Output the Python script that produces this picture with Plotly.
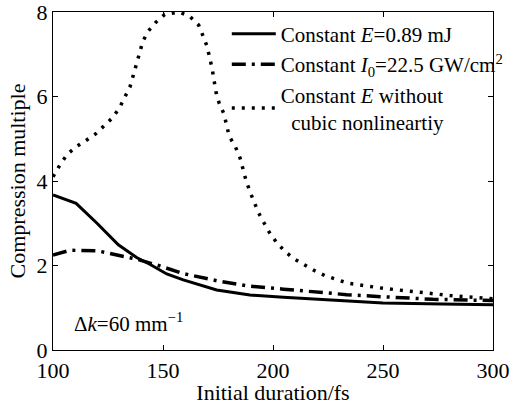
import plotly.graph_objects as go

# --- data ---
dur_e = [100, 110.5, 120, 129.7, 138, 144, 151.7, 159.2, 174.4, 189.5, 204.7, 219.9, 233.5, 250, 277, 300]
mult_e = [3.67, 3.47, 3.0, 2.49, 2.19, 2.03, 1.80, 1.66, 1.42, 1.30, 1.25, 1.20, 1.15, 1.11, 1.09, 1.07]

dur_i = [100, 107.7, 119.9, 129, 138, 148, 159.2, 174.4, 189.5, 204.7, 220, 233.5, 250, 272.7, 300]
mult_i = [2.25, 2.36, 2.35, 2.25, 2.15, 2.00, 1.81, 1.64, 1.51, 1.44, 1.36, 1.31, 1.26, 1.20, 1.17]

dur_nc = [100, 103.5, 106.5, 110.5, 115, 119.5, 123.3, 127.1, 130.3, 132.7, 135, 137.9, 140.8,
          143.2, 146.8, 150.8, 157.4, 162.3, 166.2, 168, 170, 172.3, 174.1, 175.6, 177.7, 180.1,
          182.9, 185, 187.7, 189.5, 191.5, 193.5, 196, 198.6, 201.7, 205.5, 209.5, 214.1, 218.8,
          223.6, 229, 234.2, 250, 265, 280.5, 300]
mult_nc = [4.10, 4.41, 4.63, 4.81, 4.96, 5.12, 5.31, 5.50, 5.74, 5.97, 6.23, 6.76, 7.30,
           7.54, 7.76, 7.94, 8.0, 7.89, 7.69, 7.46, 7.19, 6.67, 6.10, 5.83, 5.59, 5.06,
           4.81, 4.55, 4.02, 3.75, 3.49, 3.24, 3.00, 2.76, 2.54, 2.33, 2.16, 2.01, 1.88,
           1.76, 1.66, 1.58, 1.46, 1.37, 1.29, 1.21]

x_ticks = [100, 150, 200, 250, 300]
y_ticks = [0, 2, 4, 6, 8]

FONT = "Liberation Serif, Times New Roman, serif"

fig = go.Figure()
fig.add_trace(go.Scatter(x=dur_e, y=mult_e, mode="lines",
                         name="Constant <i>E</i>=0.89 mJ",
                         line=dict(color="black", width=3)))
fig.add_trace(go.Scatter(x=dur_i, y=mult_i, mode="lines",
                         name="Constant <i>I</i><sub>0</sub>=22.5 GW/cm<sup>2</sup>",
                         line=dict(color="black", width=3.5, dash="14px,6px,3px,6px")))
fig.add_trace(go.Scatter(x=dur_nc, y=mult_nc, mode="lines",
                         name="Constant <i>E</i> without<br>  cubic nonlineartiy",
                         line=dict(color="black", width=3.5, dash="3px,7px")))

fig.add_annotation(x=108.5, y=0.66, xref="x", yref="y", xanchor="left", yanchor="middle",
                   text="Δ<i>k</i>=60 mm<sup>−1</sup>", showarrow=False,
                   font=dict(family=FONT, size=21, color="black"))

axis_common = dict(showline=True, linecolor="black", linewidth=1.2, mirror="ticks",
                   ticks="inside", ticklen=5, tickcolor="black", showgrid=False,
                   zeroline=False, automargin=False, ticklabeloverflow="allow",
                   tickfont=dict(family=FONT, size=22, color="black"))

fig.update_xaxes(range=[100, 300], tickvals=x_ticks, title=dict(text="Initial duration/fs",
                 font=dict(family=FONT, size=22, color="black"), standoff=6), **axis_common)
fig.update_yaxes(range=[0, 8], tickvals=y_ticks, title=dict(text="Compression multiple",
                 font=dict(family=FONT, size=22, color="black"), standoff=4), **axis_common)

fig.update_layout(
    width=523, height=405,
    margin=dict(l=53, r=30, t=12, b=55),
    paper_bgcolor="white", plot_bgcolor="white",
    font=dict(family=FONT, size=21, color="black"),
    showlegend=True,
    legend=dict(x=0.395, y=0.995, xanchor="left", yanchor="top",
                bgcolor="rgba(0,0,0,0)", borderwidth=0,
                font=dict(family=FONT, size=21, color="black"),
                itemwidth=44, tracegroupgap=2),
)

fig.write_html("out.html")
